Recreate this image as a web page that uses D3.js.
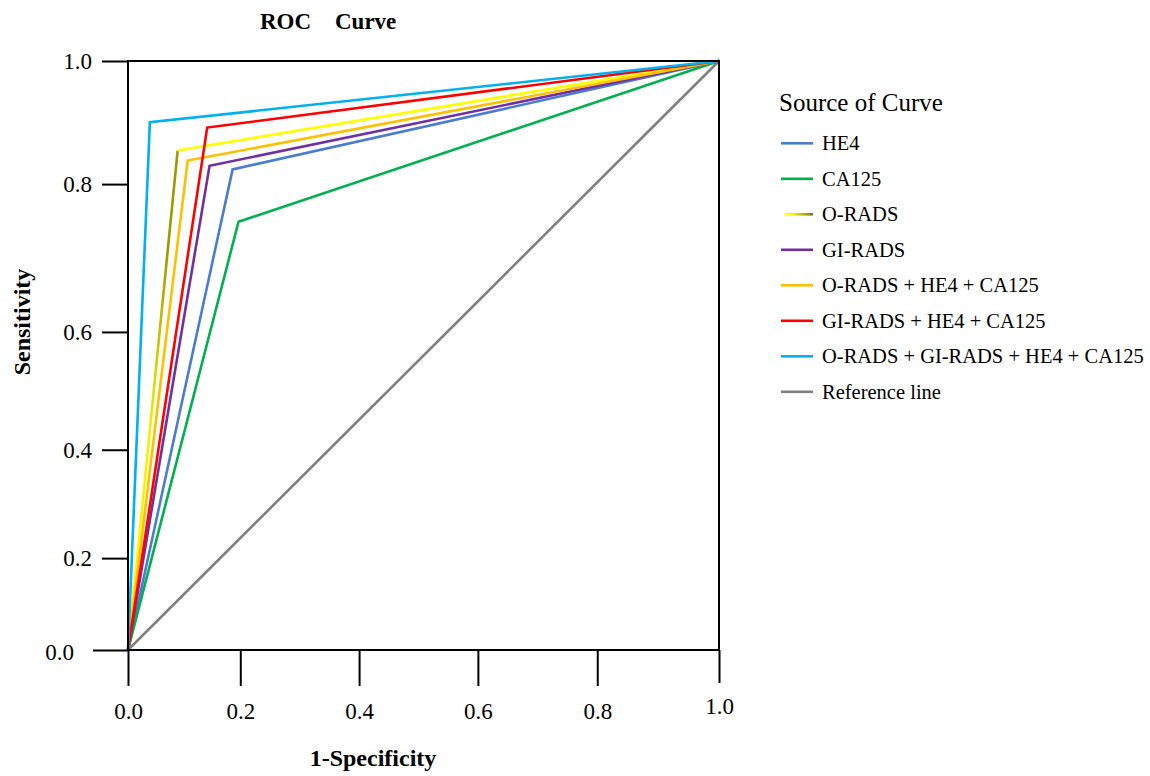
<!DOCTYPE html>
<html>
<head>
<meta charset="utf-8">
<script src="https://cdn.jsdelivr.net/npm/d3@7"></script>
<style>
    body { margin: 0; background: #fff; }
    svg { display: block; font-family: "Liberation Serif", "Times New Roman", serif; }
</style>
</head>
<body>
<script>
// Curves, in legend order
const curveNames = [
    "HE4", "CA125", "O-RADS", "GI-RADS",
    "O-RADS + HE4 + CA125", "GI-RADS + HE4 + CA125",
    "O-RADS + GI-RADS + HE4 + CA125", "Reference line"
];
const curveColors = ["#4a7dd1", "#00b050", "#ffff00", "#7030a0", "#ffc000", "#ff0000", "#00b0f0", "#808080"];
// 1 - specificity
const curveFpr = [
    [0, 0.177, 1], [0, 0.187, 1], [0, 0.084, 1], [0, 0.138, 1],
    [0, 0.101, 1], [0, 0.134, 1], [0, 0.037, 1], [0, 1]
];
// sensitivity
const curveTpr = [
    [0, 0.816, 1], [0, 0.727, 1], [0, 0.848, 1], [0, 0.822, 1],
    [0, 0.831, 1], [0, 0.887, 1], [0, 0.896, 1], [0, 1]
];
// Tick labels and where they are printed (in data units) - the original ticks are not evenly spaced
const tickLabels = [0, 0.2, 0.4, 0.6, 0.8, 1.0];
const xTickAt = [0, 0.190, 0.391, 0.592, 0.794, 1];
const yTickAt = [0, 0.156, 0.340, 0.540, 0.791, 1];

const width = 1150;
const height = 776;
const plot = {left: 128, right: 719, top: 61, bottom: 650};
const serif = '"Liberation Serif", "Times New Roman", serif';

const x = d3.scaleLinear([0, 1], [plot.left, plot.right]);
const y = d3.scaleLinear([0, 1], [plot.bottom, plot.top]);
const xTicks = d3.scaleLinear(tickLabels, xTickAt.map(x));
const yTicks = d3.scaleLinear(tickLabels, yTickAt.map(y));

const svg = d3.select("body").append("svg")
    .attr("width", width)
    .attr("height", height)
    .attr("viewBox", [0, 0, width, height]);

const curves = curveNames.map((name, i) => ({
    name,
    color: curveColors[i],
    points: curveFpr[i].map((fpr, j) => [fpr, curveTpr[i][j]])
}));

// O-RADS lower leg fades from yellow to olive, as in the original
const oRads = curves.find(d => d.name === "O-RADS");
const defs = svg.append("defs");
const legGrad = defs.append("linearGradient")
    .attr("id", "orads-leg")
    .attr("gradientUnits", "userSpaceOnUse")
    .attr("x1", x(oRads.points[0][0])).attr("y1", y(oRads.points[0][1]))
    .attr("x2", x(oRads.points[1][0])).attr("y2", y(oRads.points[1][1]));
legGrad.selectAll("stop")
    .data([[0, "#ffff00"], [0.45, "#f0f000"], [0.8, "#9c9a00"], [1, "#9c9a00"]])
    .join("stop")
    .attr("offset", d => d[0])
    .attr("stop-color", d => d[1]);
const swatchGrad = defs.append("linearGradient").attr("id", "orads-swatch");
swatchGrad.append("stop").attr("offset", 0.2).attr("stop-color", "#ffff00");
swatchGrad.append("stop").attr("offset", 1).attr("stop-color", "#7f7a00");

const line = d3.line().x(d => x(d[0])).y(d => y(d[1]));

// reference line first, then the curves over it
const drawOrder = [curves[curves.length - 1], ...curves.slice(0, -1)];
const curveG = svg.append("g")
    .attr("fill", "none")
    .attr("stroke-width", 2.6)
    .attr("stroke-linejoin", "miter");

drawOrder.forEach(c => {
    if (c === oRads) {
        curveG.append("path")
            .attr("d", line(c.points.slice(0, 2)))
            .attr("stroke", "url(#orads-leg)");
        curveG.append("path")
            .attr("d", line(c.points.slice(1)))
            .attr("stroke", c.color);
    } else {
        curveG.append("path")
            .attr("d", line(c.points))
            .attr("stroke", c.color);
    }
});

// frame
svg.append("rect")
    .attr("x", plot.left)
    .attr("y", plot.top)
    .attr("width", plot.right - plot.left)
    .attr("height", plot.bottom - plot.top)
    .attr("fill", "none")
    .attr("stroke", "#000")
    .attr("stroke-width", 2);

// y axis
const yAxisG = svg.append("g")
    .attr("transform", `translate(${plot.left},0)`)
    .call(d3.axisLeft(yTicks)
        .tickValues(tickLabels)
        .tickFormat(d3.format(".1f"))
        .tickSize(26)
        .tickPadding(10))
    .attr("font-family", serif)
    .attr("font-size", 23);
yAxisG.select(".domain").remove();
yAxisG.selectAll(".tick line").attr("stroke", "#000").attr("stroke-width", 2);
yAxisG.selectAll(".tick text").attr("fill", "#000");
yAxisG.selectAll(".tick").filter(d => d === 0).call(t => {
    t.select("line").attr("x2", -35);
    t.select("text").attr("x", -54).attr("dy", "0.42em");
});

// x axis
const xAxisG = svg.append("g")
    .attr("transform", `translate(0,${plot.bottom})`)
    .call(d3.axisBottom(xTicks)
        .tickValues(tickLabels)
        .tickFormat(d3.format(".1f"))
        .tickSize(36)
        .tickPadding(17))
    .attr("font-family", serif)
    .attr("font-size", 23);
xAxisG.select(".domain").remove();
xAxisG.selectAll(".tick line").attr("stroke", "#000").attr("stroke-width", 2);
xAxisG.selectAll(".tick text").attr("fill", "#000");
xAxisG.selectAll(".tick").filter(d => d === 1).call(t => {
    t.select("line").attr("y2", 33);
    t.select("text").attr("y", 48);
});

// axis titles
svg.append("text")
    .attr("x", 373)
    .attr("y", 766)
    .attr("text-anchor", "middle")
    .style("font-size", "24px")
    .style("font-weight", "bold")
    .text("1-Specificity");

svg.append("text")
    .attr("transform", "translate(30,322) rotate(-90)")
    .attr("text-anchor", "middle")
    .style("font-size", "24px")
    .style("font-weight", "bold")
    .text("Sensitivity");

// chart title
const title = svg.append("g")
    .style("font-size", "23px")
    .style("font-weight", "bold");
title.append("text").attr("x", 260).attr("y", 29).text("ROC");
title.append("text").attr("x", 335).attr("y", 29).text("Curve");

// legend
const legend = svg.append("g").attr("transform", "translate(779,0)");
legend.append("text")
    .attr("x", 0)
    .attr("y", 111)
    .style("font-size", "25px")
    .text("Source of Curve");

const item = legend.selectAll("g.item")
    .data(curves)
    .join("g")
    .attr("class", "item")
    .attr("transform", (d, i) => `translate(0,${143.3 + i * 35.5})`);
item.filter(d => d !== oRads).append("line")
    .attr("x1", 2)
    .attr("x2", 34)
    .attr("stroke", d => d.color)
    .attr("stroke-width", 2.6);
// a gradient on a zero-height line has no box, so that swatch is a thin rect
item.filter(d => d === oRads).append("rect")
    .attr("x", 6)
    .attr("y", -1.3)
    .attr("width", 28)
    .attr("height", 2.6)
    .attr("fill", "url(#orads-swatch)");
item.append("text")
    .attr("x", 43)
    .attr("dy", "0.34em")
    .style("font-size", "20.5px")
    .text(d => d.name);
</script>
</body>
</html>
